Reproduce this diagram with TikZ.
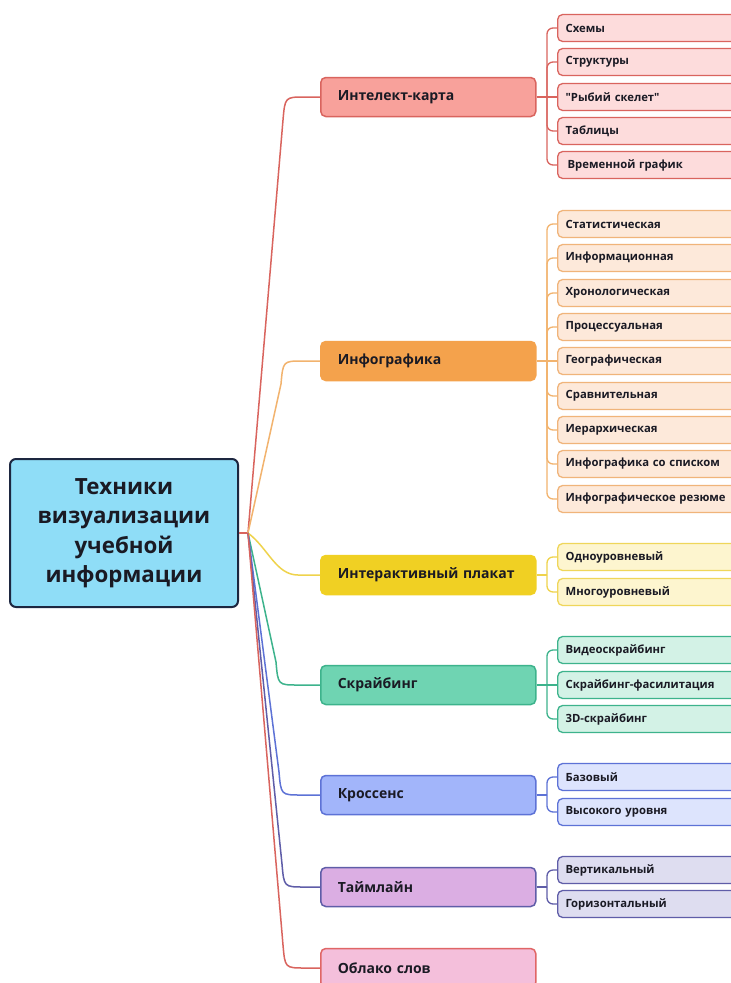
\documentclass[tikz,border=0pt]{standalone}
\usepackage{fontspec}
\setmainfont{Open Sans}[Ligatures=TeXOff]
\definecolor{txt}{HTML}{1A1A24}
\definecolor{rootfill}{HTML}{8FDDF7}
\definecolor{rootline}{HTML}{1D2740}
\definecolor{redL}{HTML}{D9645E}\definecolor{redM}{HTML}{F8A19B}\definecolor{redC}{HTML}{FDDCDC}
\definecolor{orL}{HTML}{F2B36E}\definecolor{orM}{HTML}{F4A24C}\definecolor{orC}{HTML}{FDE9DA}\definecolor{orB}{HTML}{F0B47A}
\definecolor{yeL}{HTML}{EFD34C}\definecolor{yeM}{HTML}{F0D023}\definecolor{yeC}{HTML}{FDF5CF}\definecolor{yeB}{HTML}{EFD65A}
\definecolor{teL}{HTML}{3DB38C}\definecolor{teM}{HTML}{6FD4B2}\definecolor{teC}{HTML}{D3F2E6}
\definecolor{blL}{HTML}{5D72D6}\definecolor{blM}{HTML}{A2B5FA}\definecolor{blC}{HTML}{DDE4FD}
\definecolor{nvL}{HTML}{5F5DA8}\definecolor{nvM}{HTML}{DBAEE3}\definecolor{nvC}{HTML}{DEDDF0}
\definecolor{pkM}{HTML}{F4BFDB}\definecolor{pkL}{HTML}{E06666}
\begin{document}
\begin{tikzpicture}[x=1pt,y=-1pt,
  rootbox/.style={draw=rootline,fill=rootfill,line width=2pt,rounded corners=6pt,
    minimum width=228pt,minimum height=148pt,align=center,text=txt,
    font=\fontsize{22.3}{29.5}\selectfont\bfseries},
  mainbox/.style={anchor=west,line width=1.5pt,rounded corners=5pt,minimum width=215pt,
    minimum height=39pt,inner xsep=17pt,text width=181pt,align=left,text=txt,
    font=\fontsize{14}{16}\selectfont\bfseries},
  childbox/.style={anchor=west,line width=1.3pt,rounded corners=5pt,minimum width=200pt,
    minimum height=27pt,inner xsep=8pt,text width=184pt,align=left,text=txt,
    font=\fontsize{11.3}{13}\selectfont\bfseries},
  conn/.style={line width=1.5pt},
  bconn/.style={line width=1.3pt,rounded corners=6pt}
]
\useasboundingbox (0,0) rectangle (731,983);
\clip (0,0) rectangle (731,983);
\fill[white] (0,0) rectangle (731,983);

% root
\node[rootbox] (root) at (124,533) {Техники\\визуализации\\учебной\\информации};
\coordinate (J) at (248,533);
\draw[conn,redL] (root.east) -- (J);

% main nodes
\node[mainbox,draw=redL,fill=redM] (m1) at (320,97) {Интелект-карта};
\node[mainbox,draw=orM,fill=orM] (m2) at (320,361) {Инфографика};
\node[mainbox,draw=yeM,fill=yeM] (m3) at (320,575) {Интерактивный плакат};
\node[mainbox,draw=teL,fill=teM] (m4) at (320,685) {Скрайбинг};
\node[mainbox,draw=blL,fill=blM] (m5) at (320,795) {Кроссенс};
\node[mainbox,draw=nvL,fill=nvM] (m6) at (320,887) {Таймлайн};
\node[mainbox,draw=pkL,fill=pkM] (m7) at (320,968) {Облако слов};

% root connectors
\draw[conn,redL] (J) -- (283,120) .. controls (285,97) .. (305,97) -- (m1.west);
\draw[conn,orL] (J) -- (281,384) .. controls (283,361) .. (303,361) -- (m2.west);
\draw[conn,yeL] (J) .. controls (268,548) and (276,575) .. (298,575) -- (m3.west);
\draw[conn,teL] (J) -- (276,662) .. controls (278,685) .. (298,685) -- (m4.west);
\draw[conn,blL] (J) -- (279,772) .. controls (281,795) .. (301,795) -- (m5.west);
\draw[conn,nvL] (J) -- (282,864) .. controls (284,887) .. (304,887) -- (m6.west);
\draw[conn,redL] (J) -- (283,945) .. controls (285,968) .. (305,968) -- (m7.west);

% group 1
\begin{scope}[every node/.style={childbox,draw=redL,fill=redC}]
\node (a1) at (557,28) {Схемы};
\node (a2) at (557,62) {Структуры};
\node (a3) at (557,97) {"Рыбий скелет"};
\node (a4) at (557,131) {Таблицы};
\node (a5) at (557,165) {\hspace*{2pt}Временной график};
\end{scope}
\draw[bconn,redL] (m1.east) -- (a3.west);
\foreach \c in {a1,a2,a4,a5} \draw[bconn,redL] (547,97) -- (547,0 |- \c.west) -- (\c.west);

% group 2
\begin{scope}[every node/.style={childbox,draw=orB,fill=orC}]
\node (b1) at (557,224) {Статистическая};
\node (b2) at (557,258) {Информационная};
\node (b3) at (557,293) {Хронологическая};
\node (b4) at (557,327) {Процессуальная};
\node (b5) at (557,361) {Географическая};
\node (b6) at (557,396) {Сравнительная};
\node (b7) at (557,430) {Иерархическая};
\node (b8) at (557,464) {Инфографика со списком};
\node (b9) at (557,499) {Инфографическое резюме};
\end{scope}
\draw[bconn,orL] (m2.east) -- (b5.west);
\foreach \c in {b1,b2,b3,b4,b6,b7,b8,b9} \draw[bconn,orL] (547,361) -- (547,0 |- \c.west) -- (\c.west);

% group 3
\begin{scope}[every node/.style={childbox,draw=yeB,fill=yeC}]
\node (c1) at (557,557) {Одноуровневый};
\node (c2) at (557,592) {Многоуровневый};
\end{scope}
\draw[conn,yeL] (m3.east) -- (547,575);
\foreach \c in {c1,c2} \draw[bconn,yeL] (547,575) -- (547,0 |- \c.west) -- (\c.west);

% group 4
\begin{scope}[every node/.style={childbox,draw=teL,fill=teC}]
\node (d1) at (557,650) {Видеоскрайбинг};
\node (d2) at (557,685) {Скрайбинг-фасилитация};
\node (d3) at (557,719) {3D-скрайбинг};
\end{scope}
\draw[bconn,teL] (m4.east) -- (d2.west);
\foreach \c in {d1,d3} \draw[bconn,teL] (547,685) -- (547,0 |- \c.west) -- (\c.west);

% group 5
\begin{scope}[every node/.style={childbox,draw=blL,fill=blC}]
\node (e1) at (557,777) {Базовый};
\node (e2) at (557,812) {Высокого уровня};
\end{scope}
\draw[conn,blL] (m5.east) -- (547,795);
\foreach \c in {e1,e2} \draw[bconn,blL] (547,795) -- (547,0 |- \c.west) -- (\c.west);

% group 6
\begin{scope}[every node/.style={childbox,draw=nvL,fill=nvC}]
\node (f1) at (557,870) {Вертикальный};
\node (f2) at (557,904) {Горизонтальный};
\end{scope}
\draw[conn,nvL] (m6.east) -- (547,887);
\foreach \c in {f1,f2} \draw[bconn,nvL] (547,887) -- (547,0 |- \c.west) -- (\c.west);
\end{tikzpicture}
\end{document}
